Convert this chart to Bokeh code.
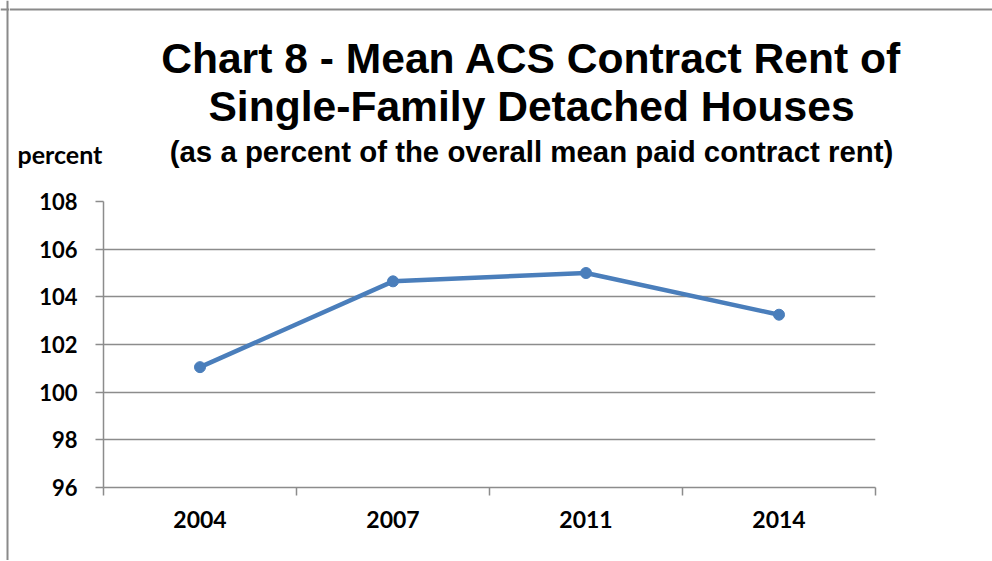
from bokeh.plotting import figure
from bokeh.models import FixedTicker, Range1d, Label, Span
from bokeh.layouts import row, column
from bokeh.embed import file_html
from bokeh.resources import INLINE

# ---- data ----
years = ["2004", "2007", "2011", "2014"]
rent_pct = [101.05, 104.65, 105.0, 103.25]
y_ticks = [96, 98, 100, 102, 104, 106, 108]

title_lines = ["Chart 8 - Mean ACS Contract Rent of", "Single-Family Detached Houses"]
subtitle = "(as a percent of the overall mean paid contract rent)"
y_unit = "percent"

x_pos = [i + 0.5 for i in range(len(years))]
x_bounds = [float(i) for i in range(len(years) + 1)]

GRAY = "#8c8c8c"
FRAME = "#8a8a8a"
BLUE = "#4a7ebb"
LBL_FONT = "Lato"
TTL_FONT = "Liberation Sans"

TOTAL_H = 560
STRIP_W = 9
MAIN_W = 983
TOP_H = 178
CHART_H = TOTAL_H - TOP_H


def no_align(f):
    if "frame_align" in f.properties():
        f.frame_align = False
    return f


def blank(width, height, xr, yr):
    f = figure(width=width, height=height, output_backend="svg", toolbar_location=None,
               title=None, x_range=xr, y_range=yr,
               min_border=0, min_border_left=0, min_border_right=0,
               min_border_top=0, min_border_bottom=0)
    f.axis.visible = False
    f.grid.visible = False
    f.outline_line_color = None
    return no_align(f)


# ---- left strip (chart border) ----
strip = blank(STRIP_W, TOTAL_H, Range1d(0, STRIP_W), Range1d(TOTAL_H, 0))
strip.add_layout(Span(location=7, dimension="height", line_color=FRAME, line_width=2))
strip.add_layout(Span(location=9, dimension="width", line_color=FRAME, line_width=2))

# ---- title area ----
top = blank(MAIN_W, TOP_H, Range1d(STRIP_W, STRIP_W + MAIN_W), Range1d(TOP_H, 0))
top.add_layout(Span(location=9, dimension="width", line_color=FRAME, line_width=2))
tcx = 531
top.add_layout(Label(x=tcx, y=57, text=title_lines[0], text_font=TTL_FONT,
                     text_font_style="bold", text_font_size="42.6px",
                     text_align="center", text_baseline="alphabetic", text_color="black"))
top.add_layout(Label(x=tcx, y=105, text=title_lines[1], text_font=TTL_FONT,
                     text_font_style="bold", text_font_size="42.6px",
                     text_align="center", text_baseline="alphabetic", text_color="black"))
top.add_layout(Label(x=tcx, y=151, text=subtitle, text_font=TTL_FONT,
                     text_font_style="bold", text_font_size="29.4px",
                     text_align="center", text_baseline="alphabetic", text_color="black"))
top.add_layout(Label(x=17, y=153, text=y_unit, text_font=LBL_FONT,
                     text_font_style="bold", text_font_size="25px",
                     text_align="left", text_baseline="alphabetic", text_color="black"))

# ---- chart ----
p = figure(width=MAIN_W, height=CHART_H, output_backend="svg", toolbar_location=None,
           title=None, x_range=Range1d(0, len(years)),
           y_range=Range1d(y_ticks[0], y_ticks[-1]),
           min_border_left=94, min_border_right=117,
           min_border_top=201 - TOP_H, min_border_bottom=TOTAL_H - 487)
no_align(p)
p.outline_line_color = None

p.xgrid.visible = False
p.ygrid.ticker = FixedTicker(ticks=y_ticks)
p.ygrid.grid_line_color = GRAY
p.ygrid.grid_line_width = 1.5

ya = p.yaxis[0]
ya.ticker = FixedTicker(ticks=y_ticks)
ya.axis_line_color = GRAY
ya.axis_line_width = 1.5
ya.major_tick_line_color = GRAY
ya.major_tick_line_width = 1.5
ya.major_tick_out = 8
ya.major_tick_in = 0
ya.minor_tick_line_color = None
ya.major_label_text_font = LBL_FONT
ya.major_label_text_font_style = "bold"
ya.major_label_text_font_size = "22px"
ya.major_label_text_color = "black"
ya.major_label_standoff = 18

xa = p.xaxis[0]
xa.ticker = FixedTicker(ticks=x_pos, minor_ticks=x_bounds)
xa.major_label_overrides = {x: y for x, y in zip(x_pos, years)}
xa.axis_line_color = GRAY
xa.axis_line_width = 1.5
xa.major_tick_line_color = None
xa.major_tick_out = 8
xa.major_tick_in = 0
xa.minor_tick_line_color = GRAY
xa.minor_tick_line_width = 1.5
xa.minor_tick_out = 8
xa.minor_tick_in = 0
xa.major_label_text_font = LBL_FONT
xa.major_label_text_font_style = "bold"
xa.major_label_text_font_size = "23px"
xa.major_label_text_color = "black"
xa.major_label_standoff = 15

p.line(x_pos, rent_pct, line_color=BLUE, line_width=4.5)
p.scatter(x_pos, rent_pct, size=11, fill_color=BLUE, line_color=BLUE)

layout = row(strip, column(top, p, spacing=0), spacing=0)
open("out.html", "w").write(file_html(layout, INLINE))
